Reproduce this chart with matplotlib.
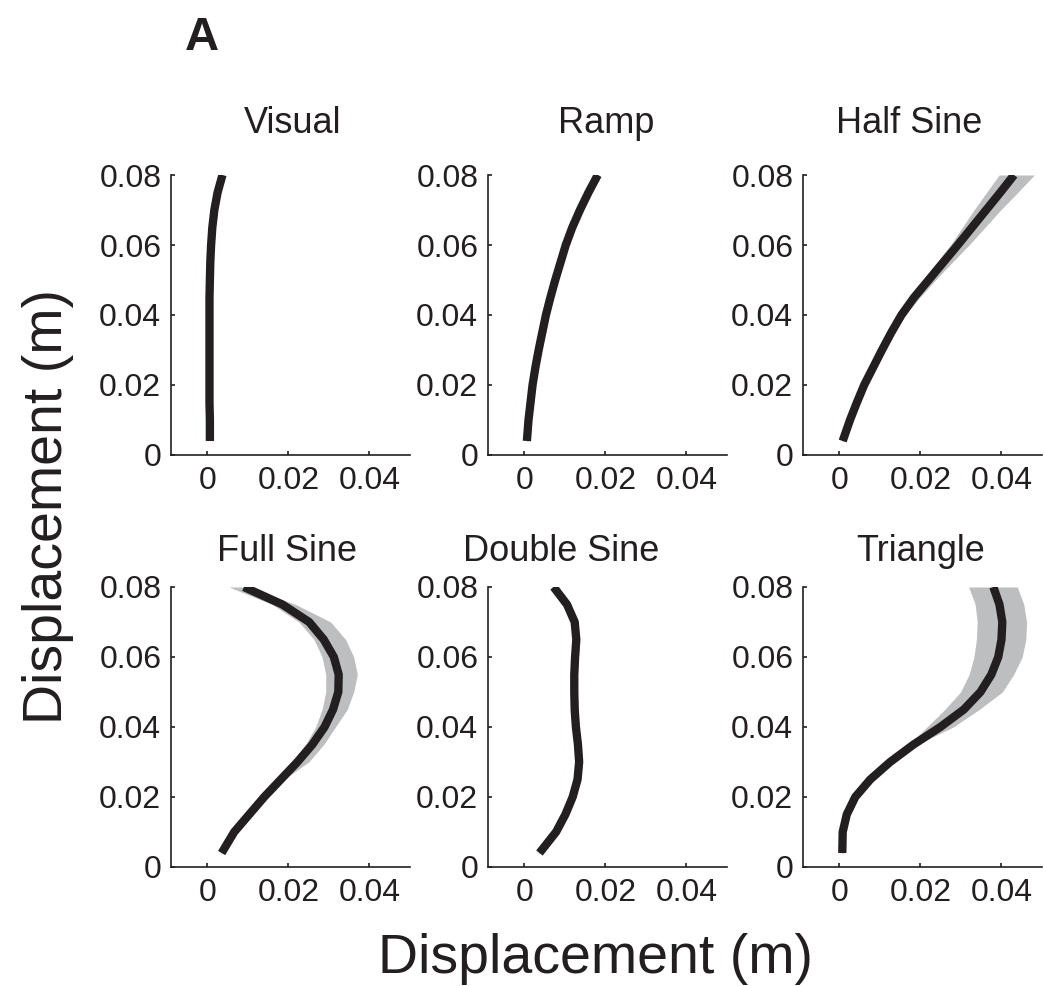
import matplotlib

matplotlib.use('Agg')
import matplotlib.pyplot as plt

plt.rcParams['font.family'] = ['Liberation Sans', 'DejaVu Sans']

# 共用的纵向位置 (m)
y_pos = [0.004, 0.01, 0.015, 0.02, 0.025, 0.03, 0.035, 0.04,
         0.045, 0.05, 0.055, 0.06, 0.065, 0.07, 0.075, 0.08]

# 各条件的横向位移均值与灰色带上下界 (m)
visual_x = [0.0006, 0.0006, 0.0005, 0.0005, 0.0005, 0.0005, 0.0005, 0.0005,
            0.0005, 0.0006, 0.0007, 0.0009, 0.0012, 0.0017, 0.0025, 0.0037]
visual_lo = [0.0005, 0.0005, 0.0004, 0.0004, 0.0004, 0.0004, 0.0004, 0.0004,
             0.0004, 0.0005, 0.0006, 0.0008, 0.0011, 0.0016, 0.0024, 0.0036]
visual_hi = [0.0007, 0.0007, 0.0006, 0.0006, 0.0006, 0.0006, 0.0006, 0.0006,
             0.0006, 0.0007, 0.0008, 0.0010, 0.0013, 0.0018, 0.0026, 0.0038]

ramp_x = [0.0006, 0.0010, 0.0015, 0.0020, 0.0027, 0.0035, 0.0044, 0.0053,
          0.0064, 0.0076, 0.0089, 0.0102, 0.0118, 0.0137, 0.0158, 0.0181]
ramp_lo = [0.0004, 0.0008, 0.0013, 0.0018, 0.0025, 0.0033, 0.0042, 0.0051,
           0.0062, 0.0074, 0.0086, 0.0099, 0.0115, 0.0134, 0.0155, 0.0178]
ramp_hi = [0.0008, 0.0012, 0.0017, 0.0022, 0.0029, 0.0037, 0.0046, 0.0055,
           0.0066, 0.0078, 0.0092, 0.0105, 0.0121, 0.0140, 0.0162, 0.0186]

half_x = [0.0008, 0.0026, 0.0043, 0.0061, 0.0083, 0.0105, 0.0128, 0.0153,
          0.0184, 0.0220, 0.0256, 0.0292, 0.0327, 0.0362, 0.0397, 0.0431]
half_lo = [0.0005, 0.0023, 0.0040, 0.0058, 0.0080, 0.0101, 0.0122, 0.0143,
           0.0172, 0.0206, 0.0240, 0.0274, 0.0303, 0.0332, 0.0363, 0.0394]
half_hi = [0.0011, 0.0029, 0.0046, 0.0064, 0.0086, 0.0109, 0.0134, 0.0163,
           0.0198, 0.0237, 0.0278, 0.0320, 0.0359, 0.0398, 0.0440, 0.0481]

full_x = [0.0035, 0.0066, 0.0103, 0.0140, 0.0181, 0.0222, 0.0259, 0.0289,
          0.0310, 0.0323, 0.0324, 0.0312, 0.0287, 0.0251, 0.0185, 0.0090]
full_lo = [0.0031, 0.0062, 0.0099, 0.0136, 0.0175, 0.0209, 0.0242, 0.0267,
           0.0283, 0.0292, 0.0292, 0.0283, 0.0263, 0.0226, 0.0160, 0.0053]
full_hi = [0.0039, 0.0070, 0.0107, 0.0144, 0.0188, 0.0250, 0.0287, 0.0316,
           0.0345, 0.0361, 0.0370, 0.0361, 0.0341, 0.0304, 0.0218, 0.0094]

double_x = [0.0037, 0.0078, 0.0101, 0.0119, 0.0131, 0.0135, 0.0132, 0.0127,
            0.0124, 0.0123, 0.0123, 0.0125, 0.0128, 0.0124, 0.0105, 0.0072]
double_lo = [0.0033, 0.0073, 0.0095, 0.0112, 0.0123, 0.0127, 0.0124, 0.0119,
             0.0116, 0.0115, 0.0115, 0.0117, 0.0120, 0.0117, 0.0099, 0.0066]
double_hi = [0.0041, 0.0083, 0.0107, 0.0126, 0.0139, 0.0143, 0.0140, 0.0135,
             0.0132, 0.0131, 0.0131, 0.0133, 0.0136, 0.0131, 0.0111, 0.0078]

tri_x = [0.0007, 0.0008, 0.0018, 0.0039, 0.0076, 0.0125, 0.0183, 0.0249,
         0.0307, 0.0348, 0.0375, 0.0392, 0.0400, 0.0402, 0.0395, 0.0380]
tri_lo = [0.0004, 0.0005, 0.0015, 0.0035, 0.0072, 0.0121, 0.0172, 0.0216,
          0.0260, 0.0299, 0.0320, 0.0332, 0.0338, 0.0340, 0.0335, 0.0319]
tri_hi = [0.0010, 0.0011, 0.0021, 0.0043, 0.0080, 0.0129, 0.0192, 0.0281,
          0.0345, 0.0402, 0.0430, 0.0451, 0.0460, 0.0462, 0.0455, 0.0439]

titles = ['Visual', 'Ramp', 'Half Sine', 'Full Sine', 'Double Sine', 'Triangle']
means = [visual_x, ramp_x, half_x, full_x, double_x, tri_x]
lows = [visual_lo, ramp_lo, half_lo, full_lo, double_lo, tri_lo]
highs = [visual_hi, ramp_hi, half_hi, full_hi, double_hi, tri_hi]

x_ticks = [0, 0.02, 0.04]
x_ticklabels = ['0', '0.02', '0.04']
y_ticks = [0, 0.02, 0.04, 0.06, 0.08]
y_ticklabels = ['0', '0.02', '0.04', '0.06', '0.08']

dark = '#231f20'
band = '#bcbec0'

W, H = 1044, 986
fig = plt.figure(figsize=(W / 100, H / 100), dpi=100)

# 子图位置（像素）
col_left = [171, 488, 803]
row_bottom = [455, 867]
ax_w, ax_h = 239, 280
title_x = [0.508, 0.494, 0.443, 0.487, 0.305, 0.494]
title_pad = [30, 30, 30, 19, 19, 19]

for i in range(6):
    r, c = divmod(i, 3)
    ax = fig.add_axes([col_left[c] / W, (H - row_bottom[r]) / H, ax_w / W, ax_h / H])
    ax.fill_betweenx(y_pos, lows[i], highs[i], color=band, linewidth=0)
    ax.plot(means[i], y_pos, color=dark, linewidth=6,
            solid_capstyle='butt', solid_joinstyle='round')

    ax.set_xlim(-0.009, 0.050)
    ax.set_ylim(0, 0.08)
    ax.set_xticks(x_ticks)
    ax.set_xticklabels(x_ticklabels)
    ax.set_yticks(y_ticks)
    ax.set_yticklabels(y_ticklabels)
    ax.tick_params(direction='in', length=3, width=1.2, colors=dark,
                   labelsize=23, labelcolor=dark)
    ax.tick_params(axis='x', pad=8)
    ax.tick_params(axis='y', pad=7)
    for side in ['top', 'right']:
        ax.spines[side].set_visible(False)
    for side in ['left', 'bottom']:
        ax.spines[side].set_color(dark)
        ax.spines[side].set_linewidth(1.2)
    ax.set_title(titles[i], fontsize=26, color=dark, x=title_x[i], pad=title_pad[i])

fig.text(185 / W, (H - 50) / H, 'A', fontsize=34, fontweight='bold', color=dark,
         ha='left', va='baseline')
fig.text(48 / W, (H - 506) / H, 'Displacement (m)', fontsize=40, color=dark,
         rotation=90, ha='center', va='center')
fig.text(595 / W, (H - 973) / H, 'Displacement (m)', fontsize=40, color=dark,
         ha='center', va='baseline')

plt.savefig('out.png', dpi=100)
plt.close()
